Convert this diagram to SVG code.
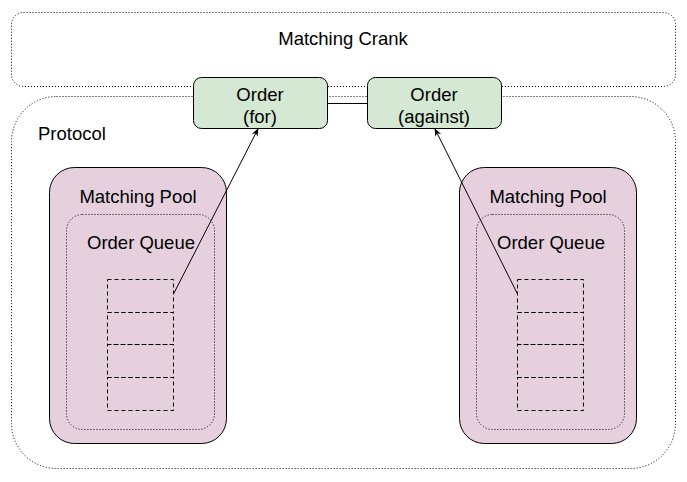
<svg xmlns="http://www.w3.org/2000/svg" width="687" height="482" viewBox="0 0 687 482">
<defs>
<style>
text{font-family:"Liberation Sans",Arial,sans-serif;font-size:18.5px;fill:#000;text-anchor:middle}
.dot{fill:none;stroke:#000;stroke-width:1;stroke-dasharray:1 2}
.pool{fill:#e6d0de;stroke:#000;stroke-width:1}
.order{fill:#d5e8d4;stroke:#000;stroke-width:1}
.cell{fill:none;stroke:#000;stroke-width:1;stroke-dasharray:4 3}
.edge{fill:none;stroke:#000;stroke-width:1}
</style>
<marker id="arr" viewBox="0 0 10 10" refX="9" refY="5" markerWidth="8" markerHeight="8" orient="auto" markerUnits="userSpaceOnUse">
<path d="M0,1 L10,5 L0,9 L3,5 Z" fill="#000"/>
</marker>
</defs>
<rect width="687" height="482" fill="#fff"/>
<g id="crank">
<rect class="dot" x="11.5" y="12.5" width="664" height="74" rx="12"/>
<text x="343" y="45">Matching Crank</text>
</g>
<g id="protocol">
<rect class="dot" x="11.5" y="96.5" width="664" height="372" rx="45"/>
<text x="38" y="140" style="text-anchor:start">Protocol</text>
</g>
<g id="pool-left">
<rect class="pool" x="49.5" y="167.5" width="177" height="276" rx="25"/>
<text x="138" y="203">Matching Pool</text>
<rect class="dot" x="66.5" y="214.5" width="148" height="215" rx="16"/>
<text x="141" y="249">Order Queue</text>
<g id="queue-left">
<rect class="cell" x="107.5" y="279.5" width="66" height="33"/>
<rect class="cell" x="107.5" y="312.5" width="66" height="32"/>
<rect class="cell" x="107.5" y="344.5" width="66" height="33"/>
<rect class="cell" x="107.5" y="377.5" width="66" height="33"/>
</g>
</g>
<g id="pool-right">
<rect class="pool" x="459.5" y="167.5" width="177" height="276" rx="25"/>
<text x="548" y="203">Matching Pool</text>
<rect class="dot" x="476.5" y="214.5" width="148" height="215" rx="16"/>
<text x="551" y="249">Order Queue</text>
<g id="queue-right">
<rect class="cell" x="517.5" y="279.5" width="66" height="33"/>
<rect class="cell" x="517.5" y="312.5" width="66" height="32"/>
<rect class="cell" x="517.5" y="344.5" width="66" height="33"/>
<rect class="cell" x="517.5" y="377.5" width="66" height="33"/>
</g>
</g>
<g id="order-for">
<rect class="order" x="193.5" y="77.5" width="134" height="51" rx="8"/>
<text x="260" y="101">Order</text>
<text x="260" y="123">(for)</text>
</g>
<g id="order-against">
<rect class="order" x="367.5" y="77.5" width="134" height="51" rx="8"/>
<text x="434" y="101">Order</text>
<text x="434" y="123">(against)</text>
</g>
<g id="connectors">
<line class="edge" x1="327.5" y1="103.5" x2="367.5" y2="103.5"/>
<line class="edge" x1="173.5" y1="294" x2="258" y2="129" marker-end="url(#arr)"/>
<line class="edge" x1="517.5" y1="294" x2="435" y2="129" marker-end="url(#arr)"/>
</g>
</svg>
